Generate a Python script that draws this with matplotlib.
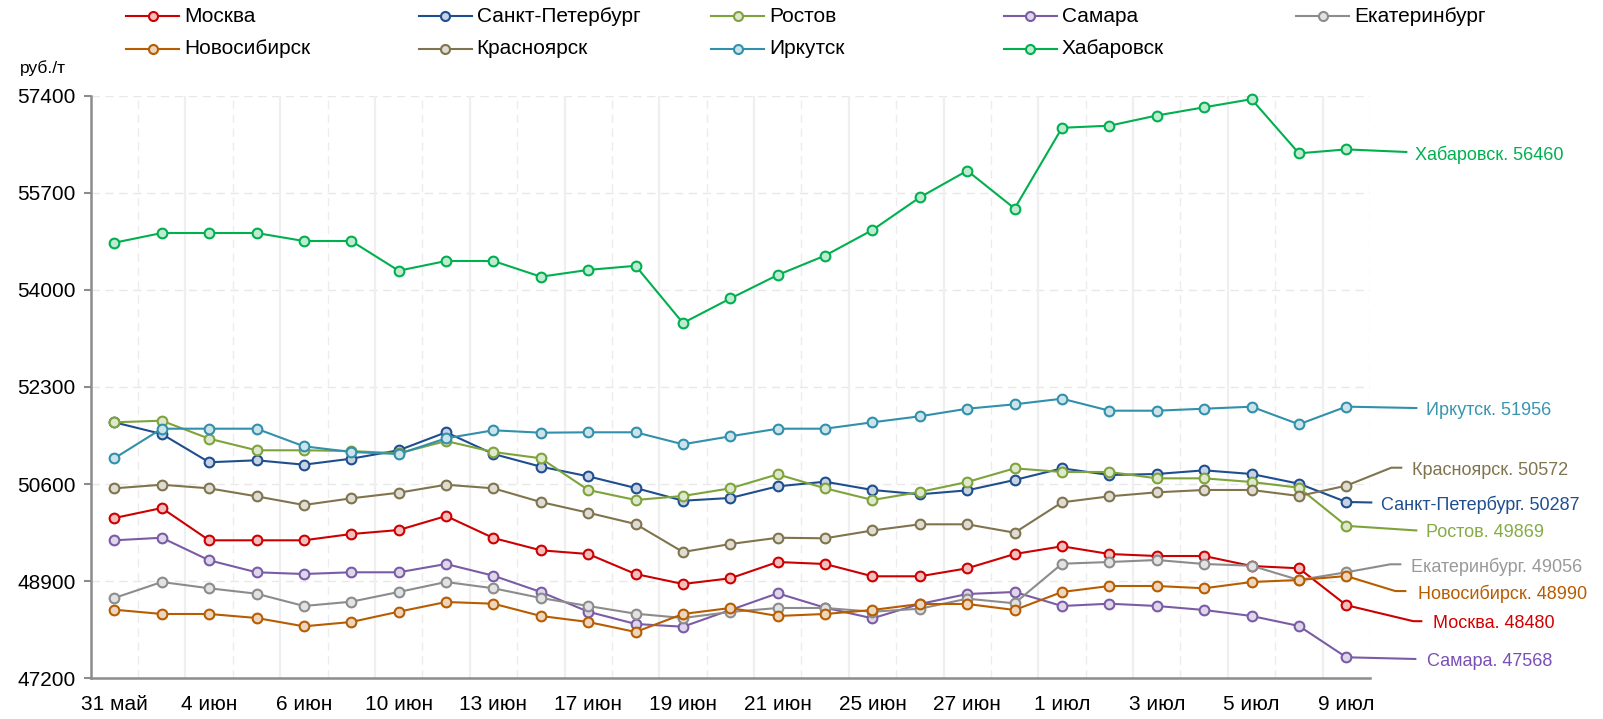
import matplotlib.pyplot as plt
from matplotlib.lines import Line2D
from matplotlib.colors import to_rgb

plt.rcParams['font.family'] = ['Liberation Sans', 'DejaVu Sans']

# trading days
dates = ['31 май', '3 июн', '4 июн', '5 июн', '6 июн', '7 июн', '10 июн', '11 июн',
         '13 июн', '14 июн', '17 июн', '18 июн', '19 июн', '20 июн', '21 июн',
         '24 июн', '25 июн', '26 июн', '27 июн', '28 июн', '1 июл', '2 июл',
         '3 июл', '4 июл', '5 июл', '8 июл', '9 июл']

# prices, rub/t
moscow = [50006, 50181, 49616, 49616, 49616, 49726, 49796, 50041, 49656, 49441,
          49376, 49026, 48851, 48951, 49236, 49201, 48986, 48986, 49126, 49376,
          49511, 49376, 49341, 49341, 49166, 49126, 48480]
spb = [51682, 51477, 50982, 51017, 50940, 51045, 51192, 51507, 51127, 50905,
       50736, 50532, 50309, 50357, 50561, 50642, 50497, 50421, 50491, 50672,
       50876, 50759, 50777, 50841, 50777, 50607, 50287]
rostov = [51682, 51710, 51395, 51192, 51192, 51179, 51139, 51354, 51162, 51052,
          50497, 50322, 50392, 50526, 50771, 50526, 50322, 50462, 50637, 50876,
          50812, 50812, 50701, 50701, 50637, 50537, 49869]
samara = [49616, 49661, 49266, 49056, 49026, 49056, 49056, 49201, 48996, 48711,
          48366, 48151, 48103, 48396, 48688, 48436, 48250, 48501, 48676, 48711,
          48466, 48506, 48466, 48396, 48291, 48116, 47568]
ekb = [48606, 48886, 48776, 48681, 48466, 48541, 48711, 48886, 48776, 48606,
       48466, 48331, 48256, 48361, 48431, 48431, 48366, 48418, 48594, 48513,
       49206, 49236, 49271, 49201, 49171, 48921, 49056]
novosib = [48401, 48326, 48326, 48256, 48110, 48186, 48366, 48536, 48506, 48291,
           48186, 48011, 48326, 48431, 48291, 48326, 48396, 48501, 48501, 48396,
           48711, 48816, 48816, 48776, 48886, 48921, 48990]
krasn = [50526, 50589, 50526, 50386, 50234, 50351, 50449, 50589, 50526, 50286,
         50099, 49901, 49411, 49551, 49661, 49651, 49788, 49896, 49896, 49749,
         50281, 50386, 50456, 50497, 50497, 50392, 50572]
irkutsk = [51052, 51570, 51570, 51570, 51262, 51162, 51127, 51402, 51542, 51500,
           51507, 51507, 51297, 51437, 51570, 51570, 51682, 51787, 51920, 51997,
           52095, 51885, 51885, 51920, 51955, 51647, 51956]
khab = [54826, 54996, 54996, 54996, 54856, 54856, 54336, 54506, 54506, 54231,
        54350, 54422, 53420, 53850, 54261, 54601, 55049, 55621, 56087, 55425,
        56838, 56875, 57053, 57197, 57339, 56391, 56460]

names = ['Москва', 'Санкт-Петербург', 'Ростов', 'Самара', 'Екатеринбург',
         'Новосибирск', 'Красноярск', 'Иркутск', 'Хабаровск']
series = [moscow, spb, rostov, samara, ekb, novosib, krasn, irkutsk, khab]
colors = ['#cc0000', '#1f4e8f', '#7ea33b', '#7a5ca6', '#8c8c8c',
          '#b85c00', '#80744e', '#3190ab', '#00b04f']
label_colors = ['#d40000', '#1f4e8f', '#86ab45', '#7a4fb5', '#999999',
                '#b85c00', '#80744e', '#3a95b0', '#00b04f']

# leader line for the end labels: bends (px, y down) and text offset
leaders = [
    [(0, 0), (67, 16), (75, 16)],
    [(0, 0), (25, 0.5)],
    [(0, 0), (70, 4.6)],
    [(0, 0), (69, 1.7)],
    [(0, 0), (44, -8), (54, -8)],
    [(0, 0), (49, 15), (59, 15)],
    [(0, 0), (45, -18), (55, -18)],
    [(0, 0), (70, 1.4)],
    [(0, 0), (60, 2.6)],
]
text_dx = [87, 35, 80, 81, 65, 72, 66, 80, 69]


def tint(c, k=0.75):
    r, g, b = to_rgb(c)
    return (r + (1 - r) * k, g + (1 - g) * k, b + (1 - b) * k)


W, H = 1603, 719
fig = plt.figure(figsize=(W / 100, H / 100), dpi=100)
ax = fig.add_axes([90.7 / W, 1 - 678.3 / H, (1370 - 90.7) / W, (678.3 - 95.7) / H])

x = list(range(len(dates)))
ymin, ymax, ystep = 47200, 57400, 1700
ax.set_xlim(-0.5, len(dates) - 0.5)
ax.set_ylim(ymin, ymax)

# grid
for v in range(ymin + ystep, ymax + 1, ystep):
    ax.axhline(v, color='#e8e8e8', lw=1, ls=(0, (6, 4)), zorder=0)
for k in range(1, len(dates) + 1):
    if k % 2:
        ax.axvline(k - 0.5, color='#ececec', lw=1, ls=(0, (6, 4)), zorder=0)
    else:
        ax.axvline(k - 0.5, color='#efefef', lw=1.6, zorder=0)

for vals, c in zip(series, colors):
    ax.plot(x, vals, color=c, lw=1.5, marker='o', ms=7, mfc=tint(c),
            mec=c, mew=1.5, zorder=3, clip_on=False)

ax.set_yticks(range(ymin, ymax + 1, ystep))
ax.set_xticks(x[::2])
ax.set_xticklabels(dates[::2])
ax.tick_params(axis='x', length=0, pad=12, labelsize=15)
ax.tick_params(axis='y', length=5, width=1.5, color='#8c8c8c', pad=6, labelsize=15)
for s in ['top', 'right']:
    ax.spines[s].set_visible(False)
for s in ['left', 'bottom']:
    ax.spines[s].set_color('#8c8c8c')
    ax.spines[s].set_linewidth(1.8)

# end labels
px_x = ax.bbox.width / len(dates)
px_y = ax.bbox.height / (ymax - ymin)
last = len(dates) - 1
for name, vals, c, lc, pts, dx in zip(names, series, colors, label_colors,
                                      leaders, text_dx):
    v = vals[-1]
    lx = [last + p[0] / px_x for p in pts]
    ly = [v - p[1] / px_y for p in pts]
    ax.plot(lx, ly, color=c, lw=1.5, clip_on=False, zorder=2)
    ax.text(last + dx / px_x, ly[-1] - 2.5 / px_y, f'{name}. {v}',
            color=lc, fontsize=13, ha='left', va='center', clip_on=False)

fig.text(20 / W, 1 - 68 / H, 'руб./т', fontsize=12.5, va='center', ha='left')

# legend, row by row
for i, (name, c) in enumerate(zip(names, colors)):
    row, col = divmod(i, 5)
    x0 = (126 + col * 292.5) / W
    y0 = 1 - (16 + row * 32.5) / H
    x1 = x0 + 53 / W
    fig.add_artist(Line2D([x0, x1], [y0, y0], color=c, lw=1.5,
                          transform=fig.transFigure))
    fig.add_artist(Line2D([(x0 + x1) / 2], [y0], color=c, marker='o', ms=6.5,
                          mfc=tint(c), mew=1.5, transform=fig.transFigure))
    fig.text(x1 + 5 / W, y0, name, fontsize=15, va='center', ha='left')

fig.savefig('out.png', dpi=100)
